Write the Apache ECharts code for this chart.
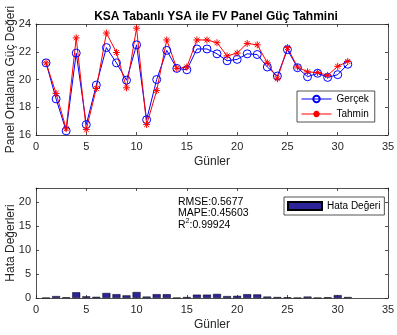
<!DOCTYPE html>
<html><head><meta charset="utf-8">
<script src="https://cdn.jsdelivr.net/npm/echarts@6/dist/echarts.min.js"></script>
<style>html,body{margin:0;padding:0;background:#fff}#c{width:397px;height:335px}</style>
</head><body><div id="c"></div>
<script>
const days = [1,2,3,4,5,6,7,8,9,10,11,12,13,14,15,16,17,18,19,20,21,22,23,24,25,26,27,28,29,30,31];
const gercek = [21.2,18.6,16.3,21.9,16.75,19.6,22.3,21.2,19.95,22.5,17.1,20.0,22.1,20.8,20.7,22.2,22.2,21.85,21.35,21.45,21.85,21.8,20.9,20.25,22.15,20.85,20.2,20.45,20.15,20.35,21.1];
const tahmin = [21.2,19.0,16.45,23.0,16.4,19.35,23.35,21.95,19.4,23.7,16.75,19.2,22.85,20.8,20.9,22.85,22.85,22.65,21.7,21.9,22.6,22.5,21.2,20.05,22.3,20.9,20.55,20.5,20.3,20.95,21.3];
const hata = [0.05,0.4,0.15,1.2,0.35,0.25,1.05,0.8,0.55,1.25,0.3,0.8,0.8,0.05,0.2,0.7,0.7,0.85,0.4,0.45,0.8,0.75,0.3,0.2,0.15,0.05,0.3,0.05,0.15,0.6,0.2];
const metrics = {rmse: '0.5677', mape: '0.45603', r2: '0.99924'};
const title = 'KSA Tabanlı YSA ile FV Panel Güç Tahmini';

const FONT = 'Liberation Sans';
const AX = '#262626';
const pairs = (ys) => days.map((d, i) => [d, ys[i]]);

function xAx(grid, pos, show) {
  return {
    type: 'value', gridIndex: grid, position: pos, min: 0, max: 35, interval: 5,
    axisLine: {show: true, onZero: false, lineStyle: {color: AX, width: 0.8}},
    axisTick: {show: true, inside: true, length: 3, lineStyle: {color: AX, width: 0.8}},
    axisLabel: {show: show, margin: 6, color: AX, fontFamily: FONT, fontSize: 11},
    splitLine: {show: false},
    name: show ? 'Günler' : '', nameLocation: 'middle', nameGap: 21, nameMoveOverlap: false,
    nameTextStyle: {color: AX, fontFamily: FONT, fontSize: 12}
  };
}
function yAx(grid, pos, show, min, max, interval, name) {
  return {
    type: 'value', gridIndex: grid, position: pos, min: min, max: max, interval: interval,
    axisLine: {show: true, onZero: false, lineStyle: {color: AX, width: 0.8}},
    axisTick: {show: true, inside: true, length: 3, lineStyle: {color: AX, width: 0.8}},
    axisLabel: {show: show, margin: 5, color: AX, fontFamily: FONT, fontSize: 11,
      formatter: (v) => (v % interval === 0 ? String(v) : '')},
    splitLine: {show: false},
    name: show ? name : '', nameLocation: 'middle', nameGap: 19, nameMoveOverlap: false,
    nameTextStyle: {color: AX, fontFamily: FONT, fontSize: 12}
  };
}

const chart = echarts.init(document.getElementById('c'), null, {renderer: 'canvas'});
chart.setOption({
  animation: false,
  backgroundColor: '#fff',
  title: {text: title, left: 211, top: 6, textAlign: 'center',
    textStyle: {fontFamily: FONT, fontSize: 12, fontWeight: 'bold', color: '#000'}},
  grid: [
    {left: 36, top: 24, width: 352, height: 111, containLabel: false, outerBoundsMode: 'none'},
    {left: 36, top: 188, width: 352, height: 110, containLabel: false, outerBoundsMode: 'none'}
  ],
  xAxis: [xAx(0, 'bottom', true), xAx(0, 'top', false), xAx(1, 'bottom', true), xAx(1, 'top', false)],
  yAxis: [
    yAx(0, 'left', true, 16, 24, 2, 'Panel Ortalama Güç Değeri'),
    yAx(0, 'right', false, 16, 24, 2, ''),
    yAx(1, 'left', true, 0, 23, 5, 'Hata Değerleri'),
    yAx(1, 'right', false, 0, 23, 5, '')
  ],
  legend: [
    {data: ['Gerçek', 'Tahmin'], orient: 'vertical', left: 297, top: 91,
      itemWidth: 30, itemHeight: 8, itemGap: 5, padding: [3, 6, 3, 4],
      borderColor: AX, borderWidth: 0.8, backgroundColor: '#fff',
      lineStyle: {width: 1},
      textStyle: {fontFamily: FONT, fontSize: 10, color: '#000'}},
    {data: ['Hata Değeri'], left: 284, top: 197, icon: 'rect',
      itemWidth: 34, itemHeight: 8, padding: [4, 4, 4, 3],
      borderColor: AX, borderWidth: 0.8, backgroundColor: '#fff',
      textStyle: {fontFamily: FONT, fontSize: 10, color: '#000'}}
  ],
  series: [
    {name: 'Gerçek', type: 'line', xAxisIndex: 0, yAxisIndex: 0, data: pairs(gercek),
      symbol: 'circle', symbolSize: 8,
      lineStyle: {color: '#0000ff', width: 1},
      itemStyle: {color: 'rgba(0,0,0,0)', borderColor: '#0000ff', borderWidth: 1}},
    {name: 'Tahmin', type: 'line', xAxisIndex: 0, yAxisIndex: 0, data: pairs(tahmin),
      symbol: 'path://M0,-1L0,1M-1,0L1,0M-0.7,-0.7L0.7,0.7M-0.7,0.7L0.7,-0.7', symbolSize: 7,
      lineStyle: {color: '#ff0000', width: 1},
      itemStyle: {color: '#ff0000', borderColor: '#ff0000', borderWidth: 1}},
    {name: 'Hata Değeri', type: 'bar', xAxisIndex: 2, yAxisIndex: 2, data: pairs(hata),
      barWidth: 8,
      itemStyle: {color: '#2d239b', borderColor: '#000', borderWidth: 0.5}}
  ],
  graphic: [
    {type: 'text', left: 178, top: 196, style: {
      text: 'RMSE:' + metrics.rmse + '\nMAPE:' + metrics.mape,
      fontFamily: FONT, fontSize: 10.5, lineHeight: 11.5, fill: '#000'}},
    {type: 'text', left: 178, top: 218, style: {
      text: '{a|R}{s|2}{a|:' + metrics.r2 + '}',
      rich: {a: {fontFamily: FONT, fontSize: 10.5, fill: '#000', color: '#000', verticalAlign: 'bottom'},
             s: {fontFamily: FONT, fontSize: 7, color: '#000', verticalAlign: 'top', padding: [0, 0, 6, 0]}}}}
  ]
});
</script></body></html>
